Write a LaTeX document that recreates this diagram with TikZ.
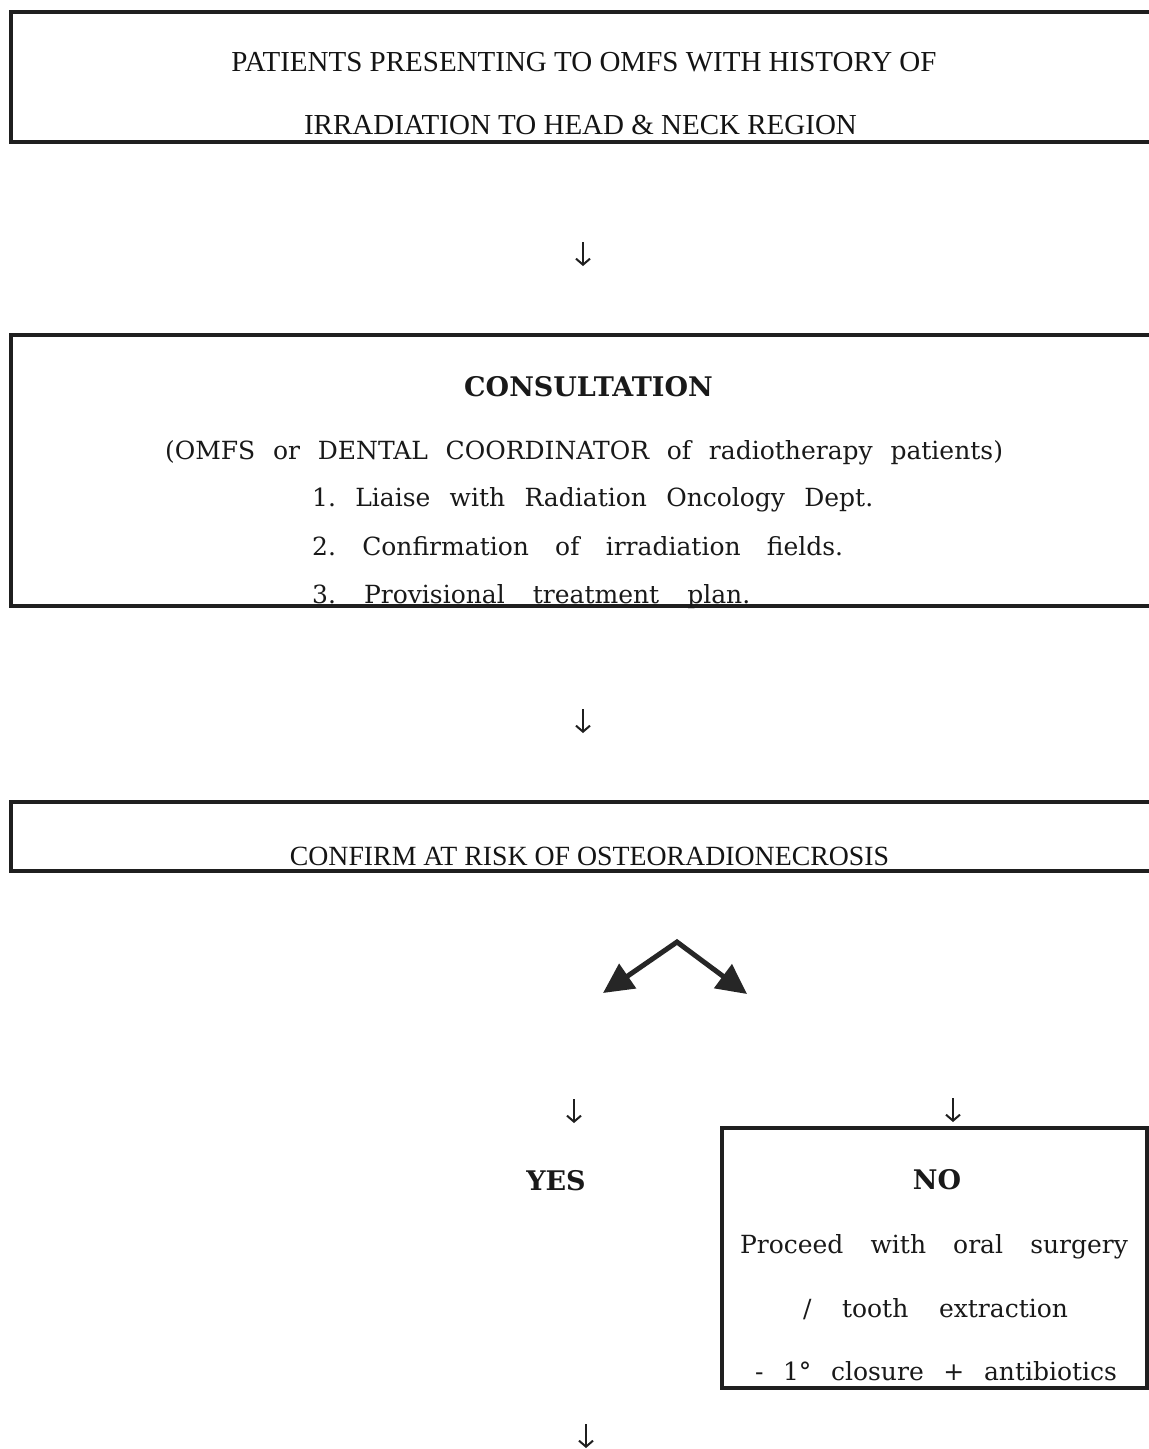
\documentclass[tikz,border=0pt]{standalone}
\usepackage{fontspec}
\setmainfont{Liberation Serif}
\newfontfamily\wideserif{DejaVu Serif}
\usetikzlibrary{arrows.meta}
\frenchspacing

\tikzset{
  frame/.style={draw=black!88, line width=3.6pt},
  boxarea/.style={inner sep=0pt, outer sep=0pt},
  capsline/.style={font=\fontsize{29}{29}\selectfont, text=black!92, inner sep=0pt, anchor=base},
  riskline/.style={font=\fontsize{27.8}{27.8}\selectfont, text=black!92, inner sep=0pt, anchor=base},
  headline/.style={font=\wideserif\bfseries\fontsize{27}{27}\selectfont, text=black!90, inner sep=0pt, anchor=base},
  bodyline/.style={font=\wideserif\fontsize{25}{25}\selectfont, text=black!90, inner sep=0pt, anchor=base},
  itemline/.style={bodyline, anchor=base west},
  downarrow/.style={draw=black!88, line width=2pt, -{Straight Barb[length=6pt,width=14pt]}},
  splitarrow/.style={draw=black!85, line width=5pt, line join=miter,
    {Triangle[length=30pt,width=29pt]}-{Triangle[length=30pt,width=29pt]}},
}

% spread the words of a line over a given width
\newcommand{\spreadto}[2]{\makebox[#1][s]{#2}}

\begin{document}
\begin{tikzpicture}[x=1pt, y=-1pt]
\useasboundingbox (0,0) rectangle (1149,1449);
\fill[white] (0,0) rectangle (1149,1449);

% ---- referral box ----
\node[boxarea, minimum width=1140pt, minimum height=130pt] (referral) at (581,77) {};
\draw[frame] (referral.north east) -- (referral.north west) -- (referral.south west) -- (referral.south east);
\node[capsline] (refA) at (584,71) {PATIENTS PRESENTING TO OMFS WITH HISTORY OF};
\node[capsline] (refB) at (580.5,134) {IRRADIATION TO HEAD \& NECK REGION};

\coordinate (d1s) at (583,242);
\coordinate (d1e) at (583,266);
\draw[downarrow] (d1s) -- (d1e);

% ---- consultation box ----
\node[boxarea, minimum width=1140pt, minimum height=271pt] (consult) at (581,470.5) {};
\draw[frame] (consult.north east) -- (consult.north west) -- (consult.south west) -- (consult.south east);
\node[headline] (cHead) at (588.5,396) {CONSULTATION};
\node[bodyline] (cWho) at (584,459) {\spreadto{838pt}{(OMFS or DENTAL COORDINATOR of radiotherapy patients)}};
\node[itemline] (cOne) at (312,506) {\spreadto{561pt}{1. Liaise with Radiation Oncology Dept.}};
\node[itemline] (cTwo) at (312,555) {\spreadto{531pt}{2. Confirmation of irradiation fields.}};
\node[itemline] (cThree) at (312,603) {\spreadto{438pt}{3. Provisional treatment plan.}};

\coordinate (d2s) at (583,709);
\coordinate (d2e) at (583,733);
\draw[downarrow] (d2s) -- (d2e);

% ---- risk box ----
\node[boxarea, minimum width=1140pt, minimum height=69pt] (risk) at (581,836.5) {};
\draw[frame] (risk.north east) -- (risk.north west) -- (risk.south west) -- (risk.south east);
\node[riskline] (riskText) at (589.5,865) {CONFIRM AT RISK OF OSTEORADIONECROSIS};

% ---- split ----
\coordinate (apex) at (677,942);
\coordinate (leftTip) at (603,993);
\coordinate (rightTip) at (747,994);
\draw[splitarrow] (leftTip) -- (apex) -- (rightTip);

\coordinate (d3s) at (574,1099);
\coordinate (d3e) at (574,1123);
\draw[downarrow] (d3s) -- (d3e);
\coordinate (d4s) at (953,1098);
\coordinate (d4e) at (953,1122);
\draw[downarrow] (d4s) -- (d4e);

% ---- yes branch ----
\node[headline] (yes) at (556,1190) {YES};
\coordinate (d5s) at (586,1424);
\coordinate (d5e) at (586,1448);
\draw[downarrow] (d5s) -- (d5e);

% ---- no branch ----
\node[boxarea, draw=black!88, line width=3.6pt, minimum width=425pt, minimum height=260pt] (nobox) at (934.5,1258) {};
\node[headline] (noHead) at (937,1189) {NO};
\node[bodyline] (noA) at (934,1253) {\spreadto{388pt}{Proceed with oral surgery}};
\node[bodyline] (noB) at (935.5,1317) {\spreadto{265pt}{/ tooth extraction}};
\node[bodyline] (noC) at (936,1380) {\spreadto{362pt}{- 1° closure + antibiotics}};
\end{tikzpicture}
\end{document}
